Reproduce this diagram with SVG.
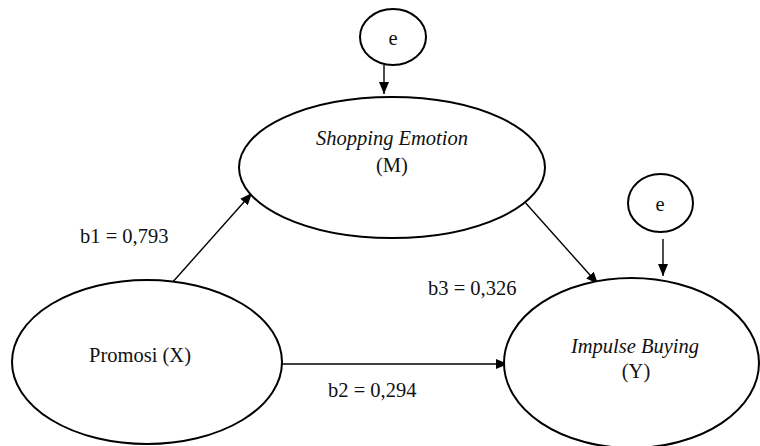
<svg xmlns="http://www.w3.org/2000/svg" width="760" height="446" viewBox="0 0 760 446">
<style>
.node{fill:#fff;stroke:#000;stroke-width:2}
.t{font-family:"Liberation Serif","Times New Roman",serif;font-size:20.5px;fill:#111}
.i{font-style:italic}
.c{text-anchor:middle}
.edge{stroke:#000;stroke-width:1.4;fill:none;marker-end:url(#ah)}
</style>
<defs>
<marker id="ah" markerUnits="userSpaceOnUse" markerWidth="12" markerHeight="10" refX="12" refY="5" orient="auto">
<path d="M0,0 L12,5 L0,10 z" fill="#000"/>
</marker>
</defs>
<rect width="760" height="446" fill="#fff"/>
<g id="connectors">
<line class="edge" x1="384" y1="65" x2="384" y2="94"/>
<line class="edge" x1="663" y1="239" x2="663" y2="276"/>
<line class="edge" x1="171" y1="284" x2="252" y2="193"/>
<line class="edge" x1="523" y1="200" x2="598" y2="284"/>
<line class="edge" x1="282" y1="364" x2="508" y2="364"/>
</g>
<g id="e-top">
<ellipse class="node" cx="393" cy="37" rx="33" ry="28"/>
<text class="t c" x="393" y="45">e</text>
</g>
<g id="e-right">
<ellipse class="node" cx="660.5" cy="203" rx="32.5" ry="29"/>
<text class="t c" x="660" y="211">e</text>
</g>
<g id="shopping-emotion">
<ellipse class="node" cx="392" cy="167.5" rx="153" ry="70.5"/>
<text class="t i c" x="392" y="145">Shopping Emotion</text>
<text class="t c" x="392" y="172">(M)</text>
</g>
<g id="promosi">
<ellipse class="node" cx="147" cy="362" rx="135" ry="82"/>
<text class="t c" x="140" y="362">Promosi (X)</text>
</g>
<g id="impulse-buying">
<ellipse class="node" cx="631.5" cy="363" rx="127.5" ry="85"/>
<text class="t i c" x="635" y="353">Impulse Buying</text>
<text class="t c" x="636" y="378">(Y)</text>
</g>
<g id="labels">
<text class="t" x="80" y="243">b1 = 0,793</text>
<text class="t" x="428" y="295">b3 = 0,326</text>
<text class="t" x="328" y="397">b2 = 0,294</text>
</g>
</svg>
